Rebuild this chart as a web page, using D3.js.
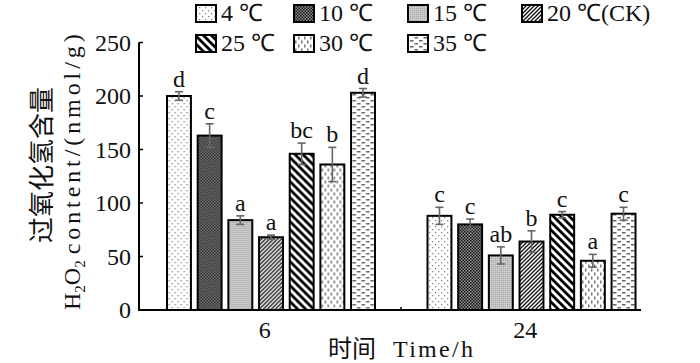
<!DOCTYPE html>
<html><head><meta charset="utf-8">
<script src="https://cdn.jsdelivr.net/npm/d3@7/dist/d3.min.js"></script>
<style>body{margin:0;background:#fff}svg{display:block}</style>
</head><body>
<script>
const times = ["6", "24"];
const temps = ["4 ℃", "10 ℃", "15 ℃", "20 ℃(CK)", "25 ℃", "30 ℃", "35 ℃"];
const values6 = [200, 163, 84, 68, 146, 136, 203];
const errors6 = [4, 11, 4, 2, 10, 16, 4];
const letters6 = ["d", "c", "a", "a", "bc", "b", "d"];
const values24 = [88, 80, 51, 64, 89, 46, 90];
const errors24 = [8, 5, 8, 10, 3, 6, 6];
const letters24 = ["c", "c", "ab", "b", "c", "a", "c"];
const yTicks = [0, 50, 100, 150, 200, 250];

const W = 700, H = 363;
const serif = "'Liberation Serif','Times New Roman',serif";
const cjk = "'Noto Sans CJK SC','Noto Sans CJK JP',sans-serif";
const svg = d3.select("body").append("svg").attr("width", W).attr("height", H);
const defs = svg.append("defs");

function pat(id, w, h, draw) {
  const p = defs.append("pattern").attr("id", id).attr("patternUnits", "userSpaceOnUse")
    .attr("width", w).attr("height", h);
  draw(p);
}
pat("p0", 6, 6, p => {
  p.append("rect").attr("width", 6).attr("height", 6).attr("fill", "#fff");
  p.append("rect").attr("x", 1).attr("y", 1).attr("width", 1.3).attr("height", 1.3).attr("fill", "#888");
  p.append("rect").attr("x", 4).attr("y", 4).attr("width", 1.3).attr("height", 1.3).attr("fill", "#888");
});
pat("p1", 3, 3, p => {
  p.append("rect").attr("width", 3).attr("height", 3).attr("fill", "#8e8e8e");
  p.append("rect").attr("width", 1.5).attr("height", 1.5).attr("fill", "#151515");
  p.append("rect").attr("x", 1.5).attr("y", 1.5).attr("width", 1.5).attr("height", 1.5).attr("fill", "#151515");
});
pat("p2", 2, 2, p => {
  p.append("rect").attr("width", 2).attr("height", 2).attr("fill", "#c9c9c9");
  p.append("rect").attr("width", 1).attr("height", 1).attr("fill", "#a8a8a8");
});
pat("p3", 4, 4, p => {
  p.append("rect").attr("width", 4).attr("height", 4).attr("fill", "#fff");
  p.append("path").attr("d", "M-1,1 L1,-1 M0,4 L4,0 M3,5 L5,3").attr("stroke", "#111").attr("stroke-width", 1.3);
});
pat("p4", 8, 8, p => {
  p.append("rect").attr("width", 8).attr("height", 8).attr("fill", "#fff");
  p.append("path").attr("d", "M-2,-2 L10,10 M-2,6 L2,10 M6,-2 L10,2").attr("stroke", "#000").attr("stroke-width", 2.8);
});
pat("p5", 6, 8, p => {
  p.append("rect").attr("width", 6).attr("height", 8).attr("fill", "#fff");
  p.append("rect").attr("x", 1).attr("y", 0.5).attr("width", 1.5).attr("height", 3).attr("fill", "#777");
  p.append("rect").attr("x", 4).attr("y", 4.5).attr("width", 1.5).attr("height", 3).attr("fill", "#777");
});
pat("p6", 9, 6, p => {
  p.append("rect").attr("width", 9).attr("height", 6).attr("fill", "#fff");
  p.append("rect").attr("x", 0.5).attr("y", 1).attr("width", 3.5).attr("height", 1.5).attr("fill", "#666");
  p.append("rect").attr("x", 5).attr("y", 4).attr("width", 3.5).attr("height", 1.5).attr("fill", "#666");
});
const fills = temps.map((t, i) => `url(#p${i})`);

const y = d3.scaleLinear().domain([0, 250]).range([310, 42.5]);
const x0 = d3.scaleBand().domain(times).range([140.5, 661.5]).padding(0);
const x1 = d3.scaleBand().domain(temps).range([26.5, 234.5]).paddingInner(0.22).paddingOuter(0);

const groups = [
  { t: "6", v: values6, e: errors6, l: letters6 },
  { t: "24", v: values24, e: errors24, l: letters24 }
];

const g = svg.append("g");
groups.forEach(gr => {
  const gg = g.append("g").attr("transform", `translate(${x0(gr.t)},0)`);
  const data = temps.map((t, i) => ({ t, v: gr.v[i], e: gr.e[i], l: gr.l[i], i }));
  gg.selectAll("rect.bar").data(data).join("rect").attr("class", "bar")
    .attr("x", d => x1(d.t)).attr("y", d => y(d.v))
    .attr("width", x1.bandwidth()).attr("height", d => y(0) - y(d.v))
    .attr("fill", d => fills[d.i]).attr("stroke", "#000").attr("stroke-width", 2);
  const cx = d => x1(d.t) + x1.bandwidth() / 2;
  const eb = gg.selectAll("g.err").data(data).join("g").attr("class", "err")
    .attr("stroke", "#666").attr("stroke-width", 1.6);
  eb.append("line").attr("x1", cx).attr("x2", cx)
    .attr("y1", d => y(d.v + d.e)).attr("y2", d => y(d.v - d.e));
  eb.append("line").attr("x1", d => cx(d) - 4).attr("x2", d => cx(d) + 4)
    .attr("y1", d => y(d.v + d.e)).attr("y2", d => y(d.v + d.e));
  eb.append("line").attr("x1", d => cx(d) - 4).attr("x2", d => cx(d) + 4)
    .attr("y1", d => y(d.v - d.e)).attr("y2", d => y(d.v - d.e));
  gg.selectAll("text.lt").data(data).join("text").attr("class", "lt")
    .attr("x", cx).attr("y", d => y(d.v + d.e) - 5)
    .attr("text-anchor", "middle").attr("font-family", serif).attr("font-size", 24)
    .attr("fill", "#111").text(d => d.l);
});

const axisG = svg.append("g");
axisG.append("line").attr("x1", 139).attr("x2", 139).attr("y1", y(250)).attr("y2", y(0) + 1)
  .attr("stroke", "#000").attr("stroke-width", 2);
axisG.append("line").attr("x1", 138).attr("x2", 641).attr("y1", y(0)).attr("y2", y(0))
  .attr("stroke", "#000").attr("stroke-width", 2);
axisG.selectAll("line.yt").data(yTicks).join("line").attr("class", "yt")
  .attr("x1", 139).attr("x2", 143).attr("y1", d => y(d)).attr("y2", d => y(d))
  .attr("stroke", "#000").attr("stroke-width", 1.5);
axisG.selectAll("text.yl").data(yTicks).join("text").attr("class", "yl")
  .attr("x", 131).attr("y", d => y(d) + 8).attr("text-anchor", "end")
  .attr("font-family", serif).attr("font-size", 24).attr("fill", "#111").text(d => d);
axisG.append("line").attr("x1", x0("24")).attr("x2", x0("24")).attr("y1", y(0)).attr("y2", y(0) - 3)
  .attr("stroke", "#000").attr("stroke-width", 1.5);
axisG.selectAll("text.xl").data(times).join("text").attr("class", "xl")
  .attr("x", d => x0(d) + x0.bandwidth() / 2 - 6).attr("y", 338).attr("text-anchor", "middle")
  .attr("font-family", serif).attr("font-size", 24).attr("fill", "#111").text(d => d);

// axis titles
svg.append("text").attr("x", 328).attr("y", 357).attr("font-family", cjk)
  .attr("font-size", 24).attr("fill", "#111").text("时间");
svg.append("text").attr("x", 393).attr("y", 357).attr("font-family", serif)
  .attr("font-size", 24).attr("textLength", 80).attr("lengthAdjust", "spacing")
  .attr("fill", "#111").text("Time/h");

svg.append("text").attr("transform", "translate(51,165) rotate(-90)").attr("text-anchor", "middle")
  .attr("font-family", cjk).attr("font-size", 26).attr("fill", "#111").text("过氧化氢含量");
const yt2 = svg.append("text").attr("transform", "translate(80,310) rotate(-90)")
  .attr("font-family", serif).attr("font-size", 24).attr("fill", "#111");
yt2.append("tspan").text("H");
yt2.append("tspan").attr("font-size", 15).attr("dy", 5).text("2");
yt2.append("tspan").attr("dy", -5).text("O");
yt2.append("tspan").attr("font-size", 15).attr("dy", 5).text("2");
yt2.append("tspan").attr("dy", -5).attr("dx", 6).attr("textLength", 220).attr("lengthAdjust", "spacing")
  .text("content/(nmol/g)");

// legend
const legCols = [196, 294, 408, 522];
const legRows = [5, 35];
const leg = svg.append("g");
temps.forEach((t, i) => {
  const lx = legCols[i % 4], ly = legRows[Math.floor(i / 4)];
  leg.append("rect").attr("x", lx).attr("y", ly).attr("width", 20).attr("height", 17)
    .attr("fill", fills[i]).attr("stroke", "#000").attr("stroke-width", 2);
  leg.append("text").attr("x", lx + 25).attr("y", ly + 16).attr("font-family", serif)
    .attr("font-size", 24).attr("fill", "#111").text(t);
});
</script>
</body></html>
